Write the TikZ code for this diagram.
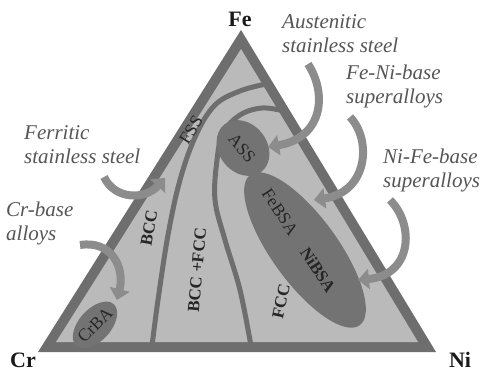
\documentclass[tikz,border=0pt]{standalone}
\usepackage{fontspec}
\setmainfont{Liberation Serif}
\usetikzlibrary{arrows.meta}
\definecolor{bandgray}{HTML}{6E6E6E}
\definecolor{fieldgray}{HTML}{BABABA}
\definecolor{blobgray}{HTML}{737373}
\definecolor{arrowgray}{HTML}{8C8C8C}
\definecolor{notegray}{HTML}{555555}

\begin{document}
\begin{tikzpicture}[x=1pt,y=-1pt,
  phase/.style={line width=5pt,bandgray},
  alloy/.style={text=black!85,font=\fontsize{17.5}{17.5}\selectfont},
  phasetag/.style={text=black!85,font=\bfseries\fontsize{17}{17}\selectfont},
  corner/.style={text=black!90,font=\bfseries\fontsize{22}{22}\selectfont},
  note/.style={align=left,anchor=west,inner sep=0pt,text=notegray,font=\itshape\fontsize{21}{24}\selectfont},
  pointer/.style={line width=8pt,arrowgray,-{Triangle[width=20pt,length=11pt]}}]
\useasboundingbox (0,0) rectangle (486,372);
% triangle and its rim
\coordinate (Cr) at (38,352); \coordinate (Ni) at (436,352); \coordinate (Fe) at (241,30);
\fill[bandgray] (Cr)--(Ni)--(Fe)--cycle;
\fill[fieldgray] (56,342)--(418,342)--(241,49)--cycle;
% phase boundaries
\draw[phase] plot[smooth,tension=0.6] coordinates {(152,346) (158,300) (168,235) (180,180) (196,135) (215,105) (240,91) (266,84)};
\draw[phase] plot[smooth,tension=0.6] coordinates {(251,346) (240,290) (225,240) (215,200) (217,160) (223,133) (240,115) (262,108) (284,111)};
% alloy fields
\fill[blobgray,rotate around={-52:(243,148)}] (243,148) ellipse (30 and 24);
\fill[blobgray,rotate around={-54:(305,250)}] (305,250) ellipse (93 and 33);
\fill[blobgray,rotate around={48:(95,325)}] (95,325) ellipse (28 and 16);
% corners
\node[corner] (fe) at (240,19) {Fe};
\node[corner] (cr) at (23,360) {Cr};
\node[corner] (ni) at (460,360) {Ni};
% labels inside
\node[phasetag,rotate=80] (bcc) at (149,228) {BCC};
\node[phasetag,rotate=85] (mix) at (197,270) {BCC +FCC};
\node[phasetag,rotate=78] (fcc) at (281,301) {FCC};
\node[alloy,rotate=58] (fss) at (191,130) {FSS};
\node[alloy,rotate=-50] (ass) at (242,148) {ASS};
\node[alloy,rotate=-57] (febsa) at (280,212) {FeBSA};
\node[phasetag,rotate=-57] (nibsa) at (318,270) {NiBSA};
\node[alloy,rotate=45] (crba) at (95,325) {CrBA};
% notes outside
\node[note] (aust) at (282,34) {Austenitic\\stainless steel};
\node[note] (fenib) at (346,86) {Fe-Ni-base\\superalloys};
\node[note] (nifeb) at (383,170) {Ni-Fe-base\\superalloys};
\node[note] (ferr) at (24,145) {Ferritic\\stainless steel};
\node[note] (crb) at (6,223) {Cr-base\\alloys};
% pointers
\coordinate (p1) at (308,64); \coordinate (q1) at (268,147);
\coordinate (p2) at (350,117); \coordinate (q2) at (314,200);
\coordinate (p3) at (390,200); \coordinate (q3) at (358,280);
\coordinate (p4) at (104,177); \coordinate (q4) at (165,178);
\coordinate (p5) at (80,245); \coordinate (q5) at (117,300);
\draw[pointer] (p1) .. controls (328,95) and (322,138) .. (q1);
\draw[pointer] (p2) .. controls (372,140) and (368,192) .. (q2);
\draw[pointer] (p3) .. controls (415,225) and (412,275) .. (q3);
\draw[pointer] (p4) .. controls (115,200) and (145,200) .. (q4);
\draw[pointer] (p5) .. controls (112,240) and (125,268) .. (q5);
\end{tikzpicture}
\end{document}
